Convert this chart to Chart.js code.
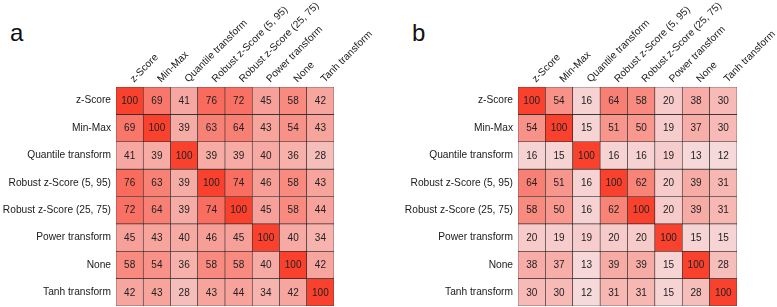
<!DOCTYPE html>
<html><head><meta charset="utf-8">
<script src="https://cdn.jsdelivr.net/npm/chart.js@4/dist/chart.umd.min.js"></script>
<style>
body{margin:0;background:#fff;width:777px;height:307px;position:relative;overflow:hidden;font-family:"Liberation Sans",Arial,sans-serif}
canvas{position:absolute;top:0}
.lab{position:absolute;font-size:24px;line-height:24px;color:#111}
</style></head><body>
<div class="lab" style="left:10px;top:21px">a</div>
<div class="lab" style="left:412px;top:21px">b</div>
<canvas id="ca" width="388" height="307" style="left:0"></canvas>
<canvas id="cb" width="389" height="307" style="left:388px"></canvas>
<script>
const methods = ["z-Score","Min-Max","Quantile transform","Robust z-Score (5, 95)","Robust z-Score (25, 75)","Power transform","None","Tanh transform"];
const corrA = [
  [100,69,41,76,72,45,58,42],
  [69,100,39,63,64,43,54,43],
  [41,39,100,39,39,40,36,28],
  [76,63,39,100,74,46,58,43],
  [72,64,39,74,100,45,58,44],
  [45,43,40,46,45,100,40,34],
  [58,54,36,58,58,40,100,42],
  [42,43,28,43,44,34,42,100]
];
const corrB = [
  [100,54,16,64,58,20,38,30],
  [54,100,15,51,50,19,37,30],
  [16,15,100,16,16,19,13,12],
  [64,51,16,100,62,20,39,31],
  [58,50,16,62,100,20,39,31],
  [20,19,19,20,20,100,15,15],
  [38,37,13,39,39,15,100,28],
  [30,30,12,31,31,15,28,100]
];
const cellUnit = 1; // each cell occupies one row band

function heat(v){
  const r = Math.round(245 + 0.05*v), g = Math.round(238 - 1.73*v), b = Math.round(241 - 1.96*v);
  return `rgb(${r},${g},${b})`;
}
const FONT = '"Liberation Sans", Arial, sans-serif';
const cellText = {
  id:'cellText',
  afterDatasetsDraw(chart){
    const ctx = chart.ctx; ctx.save();
    ctx.font = '10px ' + FONT; ctx.fillStyle = '#222';
    ctx.textAlign = 'center'; ctx.textBaseline = 'middle';
    chart.data.datasets.forEach((ds,i)=>{
      chart.getDatasetMeta(i).data.forEach((bar,j)=>{
        ctx.fillText(String(ds.values[j]), bar.x, (bar.y+bar.base)/2 + 0.5);
      });
    });
    ctx.restore();
  }
};
function zeroPad(s){ s.paddingLeft=0; s.paddingRight=0; s.paddingTop=0; s.paddingBottom=0; }

function makeHeat(id, matrix, leftW, rightPad){
  const datasets = matrix.map((row,i)=>({
    label: methods[i],
    values: row,
    data: row.map(()=>cellUnit),
    backgroundColor: row.map(heat),
    borderColor: '#262626',
    borderWidth: 0.6,
    borderSkipped: false,
    barPercentage: 1,
    categoryPercentage: 1,
    yAxisID: 'y'
  }));
  return new Chart(document.getElementById(id), {
    type:'bar',
    data:{ labels: methods, datasets },
    options:{
      responsive:false, animation:false, devicePixelRatio:1,
      layout:{ padding:{ left:0, right:rightPad, top:0, bottom:1 } },
      plugins:{ legend:{display:false}, tooltip:{enabled:false} },
      scales:{
        x:{
          type:'category', position:'top', stacked:true, offset:true,
          grid:{display:false, drawTicks:false}, border:{display:false},
          ticks:{ minRotation:45, maxRotation:45, autoSkip:false, padding:2, labelOffset:11,
                  color:'#1a1a1a', font:{family:FONT, size:10.2} },
          afterFit(s){ s.height = 87; zeroPad(s); }
        },
        y:{
          type:'linear', stacked:true, reverse:true, min:0, max:8, display:false
        },
        yl:{
          type:'category', position:'left', labels: methods, offset:true,
          grid:{display:false, drawTicks:false}, border:{display:false},
          ticks:{ padding:5, color:'#1a1a1a', font:{family:FONT, size:10.2}, autoSkip:false },
          afterFit(s){ s.width = leftW; zeroPad(s); }
        }
      }
    },
    plugins:[cellText]
  });
}
makeHeat('ca', corrA, 116, 54);
makeHeat('cb', corrB, 130, 40);
</script>
</body></html>
